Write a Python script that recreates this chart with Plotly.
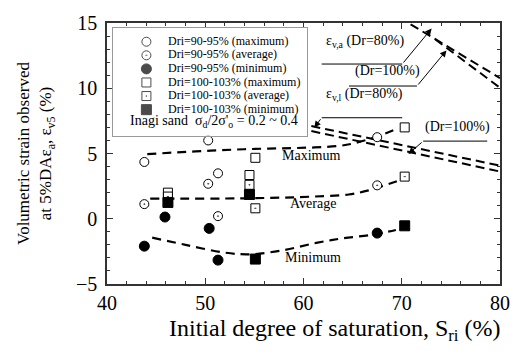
import plotly.graph_objects as go

# ---------------- data ----------------
# Dri = 90-95 %
c_max_x = [43.8, 50.3, 51.3, 67.5]
c_max_y = [4.35, 6.0, 3.48, 6.25]
c_avg_x = [43.8, 50.3, 51.3, 67.5]
c_avg_y = [1.12, 2.68, 0.2, 2.56]
c_min_x = [43.8, 45.9, 50.4, 51.3, 67.5]
c_min_y = [-2.1, 0.13, -0.74, -3.17, -1.1]
# Dri = 100-103 %
s_max_x = [46.2, 54.5, 55.1, 70.3]
s_max_y = [2.0, 3.35, 4.67, 7.0]
s_avg_x = [46.2, 54.5, 55.1, 70.3]
s_avg_y = [1.7, 2.6, 0.8, 3.23]
s_min_x = [46.2, 54.5, 55.1, 70.3]
s_min_y = [1.25, 1.86, -3.09, -0.54]

# trend curves
max_x = [44.1, 47, 50, 53, 56, 59.3, 63.6, 65.5, 67.5, 69.5]
max_y = [4.95, 5.08, 5.2, 5.3, 5.37, 5.42, 5.58, 5.85, 6.3, 6.9]
avg_x = [44.4, 48, 52, 55, 58, 61, 64.6, 66.5, 68, 69.5]
avg_y = [1.54, 1.54, 1.55, 1.58, 1.62, 1.7, 1.86, 2.15, 2.5, 2.88]
min_x = [44.6, 48, 52, 54.6, 58, 61.3, 64, 67, 69.4]
min_y = [-1.45, -2.0, -2.6, -2.72, -2.4, -1.85, -1.5, -1.23, -0.86]

# predicted strains
eva80_x = [70.9, 80.0]
eva80_y = [14.9, 10.78]
eva100_x = [73.4, 80.0]
eva100_y = [13.75, 10.04]
evl80_x = [60.8, 80.0]
evl80_y = [7.1, 4.07]
evl100_x = [60.8, 80.0]
evl100_y = [6.72, 3.62]

legend_names = ["Dri=90-95% (maximum)", "Dri=90-95% (average)", "Dri=90-95% (minimum)",
                "Dri=100-103% (maximum)", "Dri=100-103% (average)", "Dri=100-103% (minimum)"]
legend_symbols = ["circle", "circle-dot", "circle", "square", "square-dot", "square"]
legend_fills = ["white", "white", "black", "white", "white", "black"]

FONT = "Liberation Serif"

fig = go.Figure()

dash_style = dict(color="black", width=2.2, dash="9px,6px")
for xs, ys in [(max_x, max_y), (avg_x, avg_y), (min_x, min_y)]:
    fig.add_trace(go.Scatter(x=xs, y=ys, mode="lines", line=dict(shape="spline", **dash_style),
                             showlegend=False, hoverinfo="skip"))
for xs, ys in [(eva80_x, eva80_y), (eva100_x, eva100_y), (evl80_x, evl80_y), (evl100_x, evl100_y)]:
    fig.add_trace(go.Scatter(x=xs, y=ys, mode="lines",
                             line=dict(color="black", width=2, dash="9px,5px"),
                             showlegend=False, hoverinfo="skip"))

series = [(c_max_x, c_max_y), (c_avg_x, c_avg_y), (c_min_x, c_min_y),
          (s_max_x, s_max_y), (s_avg_x, s_avg_y), (s_min_x, s_min_y)]
for (xs, ys), sym, fill, nm in zip(series, legend_symbols, legend_fills, legend_names):
    fig.add_trace(go.Scatter(x=xs, y=ys, mode="markers", name=nm, showlegend=False,
                             marker=dict(symbol=sym, size=9 if fill == "white" else 10, color=fill,
                                         line=dict(color="black", width=1))))

# ---- legend drawn in its own small subplot ----
row0, row_step = 14.3, 14.0
rows = [row0 + i * row_step for i in range(len(legend_names))]
fig.add_trace(go.Scatter(x=[34] * len(rows), y=rows, mode="markers", xaxis="x2", yaxis="y2",
                         showlegend=False, hoverinfo="skip",
                         marker=dict(symbol=legend_symbols, color=legend_fills,
                                     size=[9 if f == "white" else 10 for f in legend_fills],
                                     line=dict(color="black", width=1))))

annotations = []
for r, nm in zip(rows, legend_names):
    annotations.append(dict(x=54, y=r - 1, xref="x2", yref="y2", text=nm, showarrow=False,
                            xanchor="left", yanchor="middle", font=dict(family=FONT, size=12, color="black")))
annotations.append(dict(x=15, y=97, xref="x2", yref="y2",
                        text="Inagi sand  σ<sub>d</sub>/2σ'<sub>o</sub> = 0.2 ~ 0.4", showarrow=False,
                        xanchor="left", yanchor="middle", font=dict(family=FONT, size=14, color="black")))

# curve labels
for txt, x, y in [("Maximum", 60.8, 4.85), ("Average", 61.0, 1.2), ("Minimum", 61.0, -2.95)]:
    annotations.append(dict(x=x, y=y, text=txt, showarrow=False, xanchor="center", yanchor="middle",
                            font=dict(family=FONT, size=14, color="black")))

# arrow annotations: (text, text_x, text_y, underline x0, x1, y, tail x, tail y, tip x, tip y)
arrow_notes = [
    ("ε<sub>v,a</sub> (Dr=80%)", 62.05, 13.6, 61.85, 70.05, 11.855, 70.05, 11.855, 73.04, 14.58),
    ("(Dr=100%)", 65.03, 11.3, 64.63, 71.55, 10.17, 71.55, 10.17, 74.55, 12.9),
    ("ε<sub>v,l</sub> (Dr=80%)", 62.05, 9.5, 61.85, 70.05, 7.74, 61.85, 7.74, 61.1, 6.99),
    ("(Dr=100%)", 72.18, 7.0, 72.18, 78.7, 5.95, 72.18, 5.95, 70.68, 4.96),
]
shapes = []
for txt, tx, ty, ux0, ux1, uy, ax_, ay_, px_, py_ in arrow_notes:
    annotations.append(dict(x=tx, y=ty, text=txt, showarrow=False, xanchor="left", yanchor="middle",
                            font=dict(family=FONT, size=14, color="black")))
    shapes.append(dict(type="line", x0=ux0, x1=ux1, y0=uy, y1=uy, xref="x", yref="y",
                       line=dict(color="black", width=1)))
    annotations.append(dict(x=px_, y=py_, ax=ax_, ay=ay_, axref="x", ayref="y", xref="x", yref="y",
                            text="", showarrow=True, arrowhead=2, arrowsize=1.3, arrowwidth=1,
                            arrowcolor="black"))

# x axis title
annotations.append(dict(x=0.579, y=-0.175, xref="paper", yref="paper",
                        text="Initial degree of saturation, S<sub>ri</sub> (%)", showarrow=False,
                        xanchor="center", yanchor="middle", font=dict(family=FONT, size=24, color="black")))

axis_common = dict(showline=True, linecolor="#333333", linewidth=1.5, mirror="allticks",
                   ticks="inside", ticklen=6, tickwidth=1.2, tickcolor="#333333",
                   showgrid=False, zeroline=False,
                   tickfont=dict(family=FONT, size=20, color="black"))

fig.update_layout(
    width=522, height=351,
    margin=dict(l=107, r=16, t=15, b=67),
    paper_bgcolor="white", plot_bgcolor="white",
    showlegend=False,
    xaxis=dict(range=[40, 80], dtick=10, tick0=40,
               minor=dict(dtick=2, ticks="inside", ticklen=3.5, tickcolor="#333333"), **axis_common),
    yaxis=dict(range=[-5, 15], dtick=5, tick0=-5, ticklabelstandoff=4,
               title=dict(text="Volumetric strain observed<br>at 5%DAε<sub>a</sub>, ε<sub>v5</sub> (%)",
                          font=dict(family=FONT, size=17, color="black"), standoff=20),
               minor=dict(dtick=1, ticks="inside", ticklen=3.5, tickcolor="#333333"), **axis_common),
    xaxis2=dict(domain=[0.01504, 0.5088], range=[0, 197], anchor="y2", showline=True, mirror=True,
                linecolor="#999999", linewidth=1.2, showticklabels=False, ticks="", showgrid=False,
                zeroline=False, fixedrange=True),
    yaxis2=dict(domain=[0.5688, 0.9814], range=[111, 0], anchor="x2", showline=True, mirror=True,
                linecolor="#999999", linewidth=1.2, showticklabels=False, ticks="", showgrid=False,
                zeroline=False, fixedrange=True),
    annotations=annotations,
    shapes=shapes,
)

fig.write_html("out.html")
